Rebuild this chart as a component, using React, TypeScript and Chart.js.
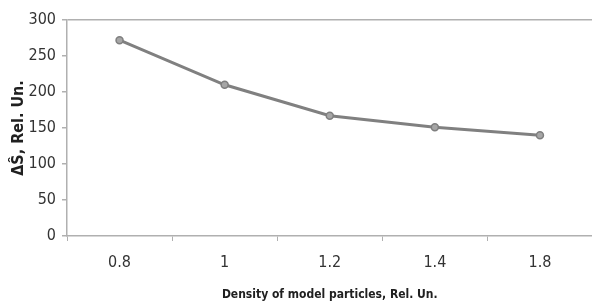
import React, { useEffect, useRef } from "react";
import { Chart, registerables } from "chart.js";

Chart.register(...registerables);

const categories = ["0.8", "1", "1.2", "1.4", "1.8"];
const values = [272, 210, 167, 151, 140];
const yTitle = "ΔŜ, Rel. Un.";
const xTitle = "Density of model particles, Rel. Un.";

const FONT = "'DejaVu Sans Condensed', 'Liberation Sans Narrow', sans-serif";

export default function App() {
  const ref = useRef<HTMLCanvasElement | null>(null);

  useEffect(() => {
    if (!ref.current) return;
    const chart = new Chart(ref.current, {
      type: "line",
      data: {
        labels: categories,
        datasets: [
          {
            data: values,
            borderColor: "#808080",
            borderWidth: 3,
            pointRadius: 3.5,
            pointBackgroundColor: "#a6a6a6",
            pointBorderColor: "#7f7f7f",
            pointBorderWidth: 1.5,
            tension: 0,
          },
        ],
      },
      options: {
        responsive: false,
        animation: false,
        layout: { padding: { top: 20, right: 0, left: 0, bottom: 0 } },
        plugins: { legend: { display: false }, tooltip: { enabled: false } },
        scales: {
          x: {
            type: "category",
            offset: true,
            afterFit: (s: any) => {
              s.height = 66;
            },
            grid: {
              offset: true,
              drawOnChartArea: false,
              drawTicks: true,
              tickLength: 5,
              color: "#b0b0b0",
              tickColor: "#b0b0b0",
            },
            border: { color: "#b0b0b0", width: 1.5 },
            ticks: {
              color: "#333333",
              padding: 12,
              font: { family: FONT, size: 16 },
              maxRotation: 0,
            },
            title: {
              display: true,
              text: xTitle,
              color: "#202020",
              font: { family: FONT, size: 12, weight: "bold" },
              padding: { top: 0, bottom: 0 },
            },
          },
          y: {
            min: 0,
            max: 300,
            afterFit: (s: any) => {
              s.width = 67;
            },
            ticks: {
              stepSize: 50,
              color: "#333333",
              padding: 6,
              font: { family: FONT, size: 16 },
            },
            grid: {
              drawTicks: true,
              tickLength: 5,
              color: (ctx: any) =>
                ctx.tick && ctx.tick.value === 300 ? "#b0b0b0" : "rgba(0,0,0,0)",
              tickColor: "#b0b0b0",
              lineWidth: 1.5,
            },
            border: { color: "#b0b0b0", width: 1.5 },
            title: {
              display: true,
              text: yTitle,
              color: "#202020",
              font: { family: FONT, size: 16, weight: "bold" },
              padding: { top: 9, bottom: 4 },
            },
          },
        },
      },
    });
    return () => chart.destroy();
  }, []);

  return (
    <div
      style={{
        position: "fixed",
        left: 0,
        top: 0,
        width: 592,
        height: 302,
        overflow: "hidden",
        background: "#fff",
      }}
    >
      <canvas ref={ref} width={598} height={302} style={{ width: 598, height: 302, display: "block" }} />
    </div>
  );
}
